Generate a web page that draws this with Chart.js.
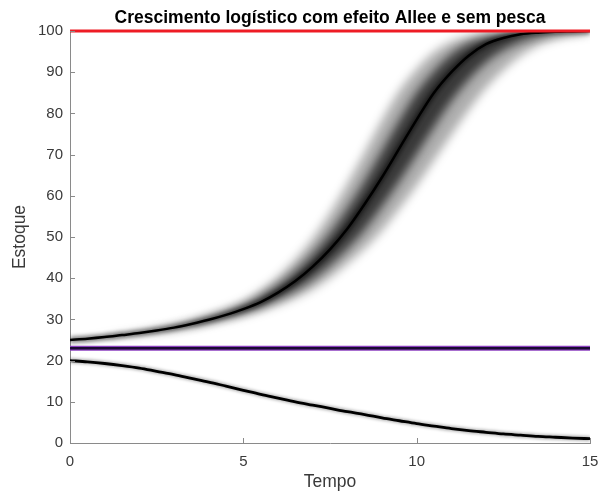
<!DOCTYPE html>
<html>
<head>
<meta charset="utf-8">
<script src="https://cdn.jsdelivr.net/npm/chart.js@4"></script>
<style>
  html, body { margin: 0; padding: 0; background: #fff; }
  #wrap { width: 600px; height: 493px; }
</style>
</head>
<body>
<div id="wrap"><canvas id="myChart" width="600" height="493"></canvas></div>
<script>
// time grid (Tempo)
const tempo = [0, 0.5, 1, 1.5, 2, 2.5, 3, 3.5, 4, 4.5, 5, 5.5, 6, 6.5, 7, 7.5,
  8, 8.5, 9, 9.5, 10, 10.5, 11, 11.5, 12, 12.5, 13, 13.5, 14, 14.5, 15];

// upper bundle (start at 25): centre and edges of the shaded band
const upperCenter = [25.0, 25.3, 25.7, 26.2, 26.7, 27.3, 28.0, 28.9, 29.9, 31.1, 32.5, 34.2,
  36.5, 39.3, 42.8, 47.0, 52.0, 58.0, 64.5, 71.5, 78.5, 85.0, 90.0, 94.0, 96.8, 98.3,
  99.2, 99.6, 99.8, 99.9, 100];
const upperFastMid = [25.0, 25.3, 25.75, 26.3, 26.85, 27.5, 28.3, 29.2, 30.4, 31.7, 33.3,
  35.5, 38.2, 41.6, 45.8, 50.8, 56.8, 63.5, 70.8, 78.2, 85.0, 90.2, 94.3, 97.0, 98.5,
  99.3, 99.65, 99.8, 99.9, 100, 100];
const upperSlowMid = [25.0, 25.3, 25.65, 26.1, 26.6, 27.1, 27.8, 28.5, 29.4, 30.5, 31.7,
  33.1, 35.0, 37.1, 39.8, 43.2, 47.2, 51.9, 57.5, 63.6, 70.1, 76.7, 83.0, 88.2, 92.4,
  95.4, 97.4, 98.6, 99.3, 99.6, 99.8];
const upperFast = [25.0, 25.35, 25.8, 26.4, 27.0, 27.7, 28.6, 29.7, 31.0, 32.5, 34.4, 37.1,
  40.4, 44.6, 49.7, 55.9, 63.0, 70.6, 78.4, 85.5, 90.8, 94.9, 97.4, 98.7, 99.5, 99.75,
  99.9, 99.95, 100, 100, 100];
const upperSlow = [25.0, 25.27, 25.6, 26.0, 26.5, 26.95, 27.5, 28.2, 29.0, 29.9, 30.9, 32.1,
  33.5, 35.2, 37.3, 40.1, 43.5, 47.2, 51.6, 56.9, 62.5, 68.6, 74.8, 80.8, 86.2, 90.5,
  94.0, 96.5, 98.0, 98.9, 99.4];

// lower bundle (start at 20, decays)
const lowerCenter = [20.0, 19.7, 19.3, 18.8, 18.2, 17.4, 16.6, 15.7, 14.8, 13.8, 12.8, 11.8,
  10.9, 10.0, 9.2, 8.4, 7.6, 6.9, 6.1, 5.4, 4.7, 4.1, 3.5, 3.0, 2.6, 2.2, 1.9, 1.6,
  1.4, 1.2, 1.05];

// equilibria
const capacidade = 100;   // carrying capacity
const limiarAllee = 23;   // Allee threshold

const xTicks = [0, 5, 10, 15];
const yTicks = [0, 10, 20, 30, 40, 50, 60, 70, 80, 90, 100];

const pts = arr => arr.map((v, i) => ({ x: tempo[i], y: v }));
const flat = v => [{ x: 0, y: v }, { x: 15, y: v }];

const axisGray = '#8a8a8a';
const textGray = '#3a3a3a';
const fontFam = "'Liberation Sans', Arial, Helvetica, sans-serif";

// MATLAB style inward ticks
const innerTicks = {
  id: 'innerTicks',
  afterDraw(chart) {
    const ctx = chart.ctx;
    const xs = chart.scales.x, ys = chart.scales.y;
    const a = chart.chartArea;
    ctx.save();
    ctx.strokeStyle = axisGray;
    ctx.lineWidth = 1;
    ctx.beginPath();
    xTicks.forEach(t => {
      const px = Math.round(xs.getPixelForValue(t)) + 0.5;
      ctx.moveTo(px, a.bottom);
      ctx.lineTo(px, a.bottom - 5);
    });
    yTicks.forEach(t => {
      const py = Math.round(ys.getPixelForValue(t)) + 0.5;
      ctx.moveTo(a.left, py);
      ctx.lineTo(a.left + 5, py);
    });
    ctx.stroke();
    ctx.restore();
  }
};

// soften the shaded band: fills are drawn in beforeDraw, so blur only them
const softBand = {
  id: 'softBand',
  beforeRender(chart) { chart.ctx.filter = 'blur(5px)'; },
  beforeDraw(chart) { chart.ctx.filter = 'none'; },
  beforeDatasetDraw(chart, args) {
    const b = chart.data.datasets[args.index].blur;
    if (b) chart.ctx.filter = 'blur(' + b + 'px)';
  },
  afterDatasetDraw(chart) { chart.ctx.filter = 'none'; }
};

const line = (data, color, width, order, extra) => Object.assign({
  data: data,
  borderColor: color,
  borderWidth: width,
  pointRadius: 0,
  cubicInterpolationMode: 'monotone',
  fill: false,
  order: order
}, extra || {});

const chartData = {
  datasets: [
    line(pts(upperFast), 'rgba(0,0,0,0)', 0, 20, { fill: '+1', backgroundColor: 'rgba(0,0,0,0.32)' }),
    line(pts(upperSlow), 'rgba(0,0,0,0)', 0, 21),
    line(pts(upperFastMid), 'rgba(0,0,0,0)', 0, 18, { fill: '+1', backgroundColor: 'rgba(0,0,0,0.68)' }),
    line(pts(upperSlowMid), 'rgba(0,0,0,0)', 0, 19),
    line(pts(upperCenter), 'rgba(0,0,0,0.55)', 6, 16, { blur: 2 }),
    line(pts(upperCenter), '#000', 2.5, 15, { blur: 0.5 }),
    line(pts(lowerCenter), 'rgba(0,0,0,0.3)', 5, 16, { blur: 1.5 }),
    line(pts(lowerCenter), '#000', 2.8, 15, { blur: 0.5 }),
    line(flat(limiarAllee), '#8b3fbf', 5, 3, { tension: 0 }),
    line(flat(limiarAllee), '#1b0a33', 2.5, 2, { tension: 0 }),
    line(flat(capacidade), '#ee1c25', 3, 1, { tension: 0, clip: 4 })
  ]
};

const chartConfig = {
  type: 'line',
  data: chartData,
  plugins: [innerTicks, softBand],
  options: {
    responsive: false,
    animation: false,
    layout: { padding: { left: 10, right: 10, top: 0, bottom: 0 } },
    plugins: {
      legend: { display: false },
      tooltip: { enabled: false },
      filler: { drawTime: 'beforeDraw' },
      title: {
        display: true,
        text: 'Crescimento logístico com efeito Allee e sem pesca',
        fullSize: false,
        color: '#000',
        font: { family: fontFam, size: 17.5, weight: 'bold' },
        padding: { top: 8, bottom: 2 }
      }
    },
    scales: {
      x: {
        type: 'linear',
        min: 0,
        max: 15,
        afterBuildTicks: s => { s.ticks = xTicks.map(v => ({ value: v })); },
        afterFit: s => { s.paddingRight = 10; },
        grid: { display: false, drawTicks: false },
        border: { display: true, color: axisGray, width: 1 },
        ticks: { color: textGray, font: { family: fontFam, size: 15 }, padding: 10 },
        title: { display: true, text: 'Tempo', color: textGray, font: { family: fontFam, size: 17.5 }, padding: { top: -9, bottom: 0 } }
      },
      y: {
        min: 0,
        max: 100,
        afterBuildTicks: s => { s.ticks = yTicks.map(v => ({ value: v })); },
        grid: { display: false, drawTicks: false },
        border: { display: true, color: axisGray, width: 1 },
        ticks: { color: textGray, font: { family: fontFam, size: 15 }, padding: 7 },
        title: { display: true, text: 'Estoque', color: textGray, font: { family: fontFam, size: 17.5 }, padding: { top: 0, bottom: 0 } }
      }
    }
  }
};

const chartCanvas = document.getElementById('myChart');
const myChart = new Chart(chartCanvas.getContext('2d'), chartConfig);
</script>
</body>
</html>
